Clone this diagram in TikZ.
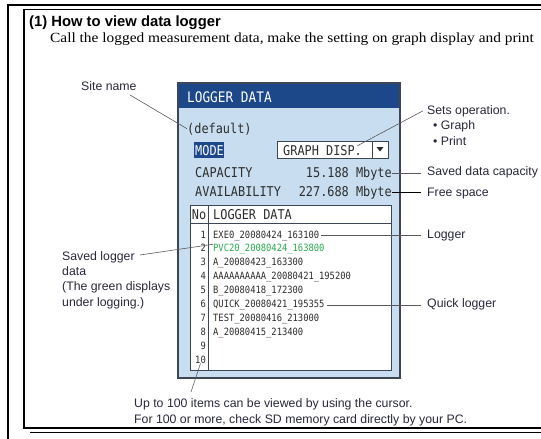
\documentclass[tikz,border=0pt]{standalone}
\usepackage{fontspec}
\setmainfont{Liberation Serif}
\newfontfamily\subf[FakeStretch=1.10]{Liberation Serif}
\newfontfamily\arialf{Liberation Sans}
\newfontfamily\lcdf[FakeStretch=0.88]{DejaVu Sans Mono}
\definecolor{panelfill}{RGB}{200,222,240}
\definecolor{paneldraw}{RGB}{60,70,85}
\definecolor{titlebar}{RGB}{28,72,138}
\definecolor{lcdtext}{RGB}{45,45,45}
\definecolor{lcdgreen}{RGB}{40,170,80}
\definecolor{labelc}{RGB}{40,40,60}
\definecolor{leadc}{RGB}{90,90,90}
\begin{document}
\begin{tikzpicture}[x=1pt,y=-1pt,
  lbl/.style={font=\arialf\fontsize{12.3}{15.3}\selectfont, text=labelc, inner sep=0pt},
  lcdb/.style={font=\lcdf\fontsize{13.5}{15}\selectfont, text=lcdtext, inner sep=0pt},
  lcds/.style={font=\lcdf\fontsize{10}{12}\selectfont, text=lcdtext, inner sep=0pt},
  lead/.style={draw=leadc, line width=0.6pt},
  frame/.style={draw=black, line width=1.6pt}]
\useasboundingbox (0,0) rectangle (541,439);
% page frames
\draw[frame] (8,439) -- (8,5) -- (541,5);
\draw[frame, line width=1.3pt] (541,9.5) -- (24,9.5) -- (24,428) -- (541,428);
\draw[line width=0.8pt] (30,432) -- (541,432);
% heading
\node[anchor=base west, inner sep=0pt, font=\arialf\bfseries\fontsize{14.8}{17}\selectfont] (head) at (29,26) {(1) How to view data logger};
\node[anchor=base west, inner sep=0pt, font=\subf\fontsize{14}{16}\selectfont] (sub) at (50,42) {Call the logged measurement data, make the setting on graph display and print};
% panel
\draw[fill=panelfill, draw=paneldraw, line width=1.5pt] (178,83) rectangle (400,378);
\fill[titlebar] (179,84) rectangle (399,108);
\node[lcdb, text=white, font=\lcdf\fontsize{14.5}{16}\selectfont, anchor=base west] (ttl) at (187,102) {LOGGER DATA};
\node[lcdb, anchor=base west] (deflt) at (187,133) {(default)};
\fill[titlebar] (194,142) rectangle (224,158);
\node[lcdb, text=white, anchor=base west] (mode) at (195,155) {MODE};
\draw[fill=white, draw=paneldraw, line width=0.8pt] (277,141) rectangle (388,158);
\draw[draw=paneldraw, line width=0.8pt] (372,141) -- (372,158);
\fill[lcdtext] (376.5,147) -- (383.5,147) -- (380,151.5) -- cycle;
\node[lcdb, anchor=base west] (graph) at (283,155) {GRAPH DISP.};
\coordinate (pgraph) at (357,146);
\node[lcdb, anchor=base west] (capk) at (195,177) {CAPACITY};
\node[lcdb, anchor=base east] (capv) at (392,177) {15.188 Mbyte};
\node[lcdb, anchor=base west] (avak) at (195,196) {AVAILABILITY};
\node[lcdb, anchor=base east] (avav) at (392,196) {227.688 Mbyte};
% table
\draw[fill=white, draw=paneldraw, line width=1pt] (190,205) rectangle (391,370);
\draw[draw=paneldraw, line width=0.8pt] (190,223) -- (391,223);
\draw[draw=paneldraw, line width=1pt] (208,205) -- (208,370);
\node[lcdb, anchor=base] (no) at (199,219) {No};
\node[lcdb, anchor=base west] (hdr) at (213,219) {LOGGER DATA};
\foreach \k in {1,...,10} {
  \node[lcds, anchor=base east] (n\k) at (206,{238+13.9*(\k-1)}) {\k};
}
\node[lcds, anchor=base west] (e1) at (213,238) {EXE0\_20080424\_163100};
\node[lcds, anchor=base west, text=lcdgreen] (e2) at (213,251.9) {PVC20\_20080424\_163800};
\node[lcds, anchor=base west] (e3) at (213,265.8) {A\_20080423\_163300};
\node[lcds, anchor=base west] (e4) at (213,279.7) {AAAAAAAAAA\_20080421\_195200};
\node[lcds, anchor=base west] (e5) at (213,293.6) {B\_20080418\_172300};
\node[lcds, anchor=base west] (e6) at (213,307.5) {QUICK\_20080421\_195355};
\node[lcds, anchor=base west] (e7) at (213,321.4) {TEST\_20080416\_213000};
\node[lcds, anchor=base west] (e8) at (213,335.3) {A\_20080415\_213400};
% labels
\node[lbl, anchor=base west] (site) at (81,90) {Site name};
\node[lbl, anchor=base west] (sets) at (427,114) {Sets operation.};
\node[lbl, anchor=base west] (gr) at (433,129) {\textbullet\ Graph};
\node[lbl, anchor=base west] (pr) at (433,145) {\textbullet\ Print};
\node[lbl, anchor=base west] (capl) at (427,175) {Saved data capacity};
\node[lbl, anchor=base west] (freel) at (427,196) {Free space};
\node[lbl, anchor=base west] (logl) at (427,238) {Logger};
\node[lbl, anchor=base west] (quick) at (427,307) {Quick logger};
\node[lbl, anchor=north west, align=left] (saved) at (62,251) {Saved logger\\data\\(The green displays\\under logging.)};
\node[lbl, anchor=base west] (note) at (134,407) {Up to 100 items can be viewed by using the cursor.};
\node[lbl, anchor=base west] (note2) at (134,423) {For 100 or more, check SD memory card directly by your PC.};
\coordinate (sitetip) at (130,95);
\coordinate (savedtip) at (140,255);
\coordinate (notetip) at (191,392);
% leaders
\draw[lead] (sitetip) -- (deflt.west);
\draw[lead] ([xshift=-4pt]sets.west) -- (pgraph);
\draw[lead] (capv.east) -- ([xshift=-6pt]capv.east -| capl.west);
\draw[lead, draw=black] (avav.east) -- ([xshift=-6pt]avav.east -| freel.west);
\draw[lead] ([xshift=2pt]e1.east) -- ([xshift=-6pt]e1.east -| logl.west);
\draw[lead] ([xshift=2pt]e6.east) -- ([xshift=-6pt]e6.east -| quick.west);
\draw[lead] (savedtip) -- (e2.north west);
\draw[lead] (n10.south) -- (notetip);
\end{tikzpicture}
\end{document}
